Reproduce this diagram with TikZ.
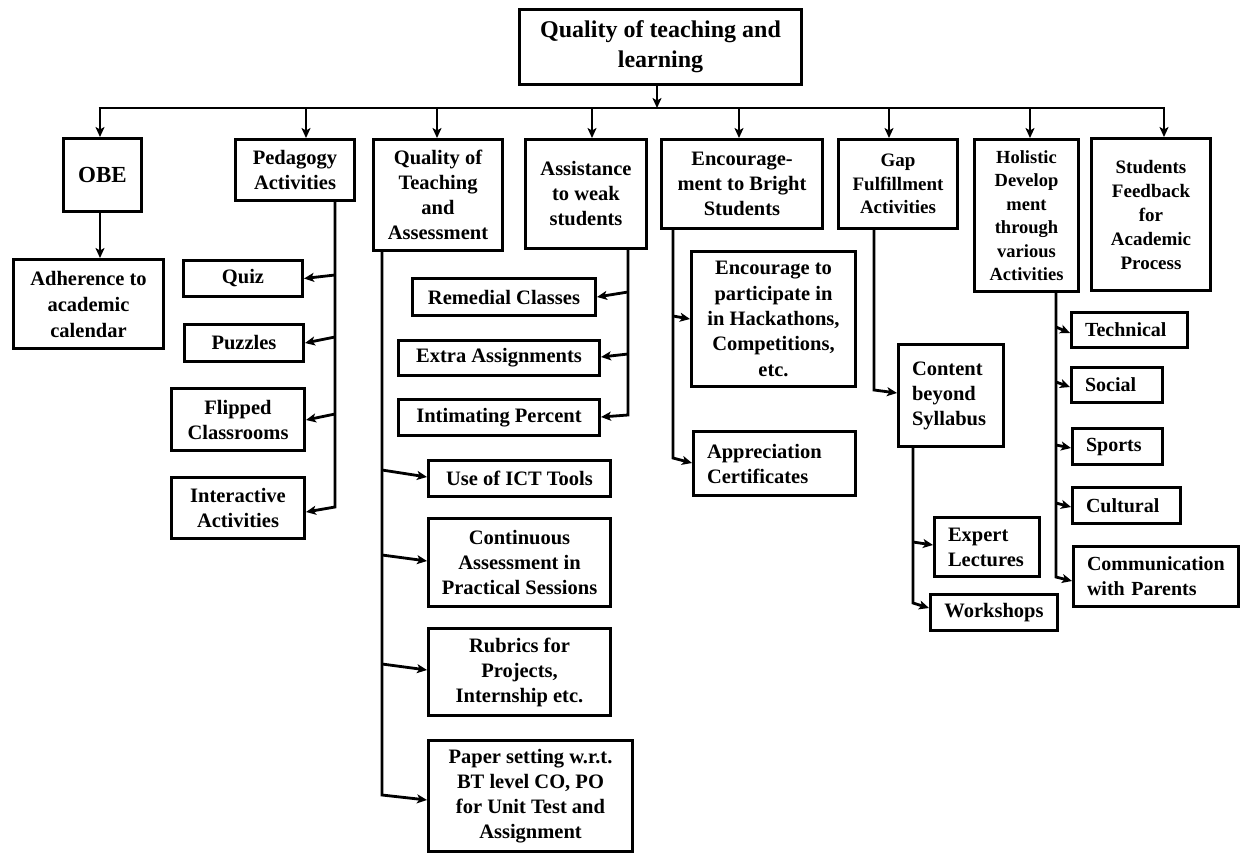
\documentclass[tikz,border=0pt]{standalone}
\usepackage{fontspec}
\setmainfont{Liberation Serif}
\usetikzlibrary{arrows.meta,calc}

% branch from a vertical trunk to a box side
\newcommand{\twig}[5]{\draw[arr] ($(#2.#3 -| #1)+(0,#4)$) -- ($(#2.#3)+(0,#5)$);}
% last branch: the trunk itself ends in this arrow
\newcommand{\twigend}[5]{\draw[arr] (#1) -- ($(#2.#3 -| #1)+(0,#4)$) -- ($(#2.#3)+(0,#5)$);}

\tikzset{
  box/.style={draw, line width=3pt, align=center, inner sep=0pt,
    font=\bfseries\fontsize{20.5}{25}\selectfont},
  lbox/.style={box, align=left, inner xsep=13.5pt},
  fbig/.style={font=\bfseries\fontsize{24}{30}\selectfont},
  fobe/.style={font=\bfseries\fontsize{23}{28}\selectfont},
  fmid/.style={font=\bfseries\fontsize{19}{23.5}\selectfont},
  fsm/.style={font=\bfseries\fontsize{18.5}{23.5}\selectfont},
  fsf/.style={font=\bfseries\fontsize{19}{24}\selectfont},
  fsub/.style={font=\bfseries\fontsize{20}{25}\selectfont},
  conn/.style={line width=2.8pt},
  arr/.style={conn, -{Stealth[length=10pt,width=9pt,inset=2.5pt]}},
}

\begin{document}
\begin{tikzpicture}[x=1pt,y=-1pt]
\fill[white] (0,0) rectangle (1242,855);
\useasboundingbox (0,0) rectangle (1242,855);

% root
\node[box,fbig,minimum width=282,minimum height=75] (top) at (660.5,47) {Quality of teaching and\\learning};

% first level
\node[box,fobe,minimum width=78,minimum height=73] (obe) at (102.5,175) {OBE};
\node[box,minimum width=119,minimum height=61] (ped) at (295,170) {Pedagogy\\Activities};
\node[box,minimum width=129,minimum height=111] (qta) at (438,195) {Quality of\\Teaching\\and\\Assessment};
\node[box,minimum width=121,minimum height=109] (asw) at (586,194) {Assistance\\to weak\\students};
\node[box,minimum width=161,minimum height=89] (enc) at (742,184) {Encourage-\\ment to Bright\\Students};
\node[box,fmid,minimum width=119,minimum height=89] (gap) at (898,184) {Gap\\Fulfillment\\Activities};
\node[box,fsm,minimum width=104,minimum height=152] (hol) at (1026.5,215.5) {Holistic\\Develop\\ment\\through\\various\\Activities};
\node[box,fsf,minimum width=119,minimum height=152] (sfb) at (1151,214.5) {Students\\Feedback\\for\\Academic\\Process};

% OBE
\node[box,font=\bfseries\fontsize{20.5}{26}\selectfont,minimum width=150,minimum height=89] (adh) at (88.5,304) {Adherence to\\academic\\calendar};

% pedagogy
\node[box,minimum width=119,minimum height=36] (quiz) at (243,278.5) {Quiz};
\node[box,minimum width=119,minimum height=37] (puz) at (244,343) {Puzzles};
\node[box,minimum width=133,minimum height=62] (flip) at (238,419.5) {Flipped\\Classrooms};
\node[box,minimum width=133,minimum height=61] (inter) at (238,508) {Interactive\\Activities};

% weak students
\node[box,minimum width=183,minimum height=37] (rem) at (504,297) {Remedial Classes};
\node[box,minimum width=201,minimum height=35] (extra) at (499,358) {Extra Assignments};
\node[box,minimum width=201,minimum height=36] (intim) at (499,417.5) {Intimating Percent};

% teaching and assessment
\node[box,minimum width=182,minimum height=36] (ict) at (519.5,478.5) {Use of ICT Tools};
\node[box,minimum width=182,minimum height=88] (cont) at (519.5,562.5) {Continuous\\Assessment in\\Practical Sessions};
\node[box,minimum width=182,minimum height=87] (rub) at (519.5,672) {Rubrics for\\Projects,\\Internship etc.};
\node[box,minimum width=204,minimum height=111] (paper) at (530.5,796) {Paper setting w.r.t.\\BT level CO, PO\\for Unit Test and\\Assignment};

% bright students
\node[box,font=\bfseries\fontsize{20.5}{25.3}\selectfont,minimum width=164,minimum height=135] (epart) at (773.5,319) {Encourage to\\participate in\\in Hackathons,\\Competitions,\\etc.};
\node[lbox,text width=135,minimum height=64] (appr) at (774.5,463.5) {Appreciation\\Certificates};

% gap fulfillment
\node[lbox,text width=78,minimum height=102] (cbs) at (951,395.5) {Content\\beyond\\Syllabus};
\node[lbox,text width=78,minimum height=59] (exp) at (987,547) {Expert\\Lectures};
\node[box,minimum width=127,minimum height=36] (work) at (994,612.5) {Workshops};

% holistic development
\node[lbox,fsub,text width=89,minimum height=35] (tech) at (1129.5,330) {Technical};
\node[lbox,fsub,text width=64,minimum height=35] (soc) at (1117,385) {Social};
\node[lbox,fsub,text width=63,minimum height=36] (spo) at (1117.5,446.5) {Sports};
\node[lbox,fsub,text width=81,minimum height=36] (cul) at (1126.5,505.5) {Cultural};
\node[lbox,fsub,text width=138,minimum height=60] (com) at (1156,576.5) {Communication\\with Parents};

% distribution bus
\coordinate (bus) at (657,108);
\draw[arr] ($(top.south)+(-3.5,0)$) -- ($(top.south |- bus)+(-3.5,0)$);
\draw[conn] ($(obe.north |- bus)+(-3.9,0)$) -- ($(sfb.north |- bus)+(14.4,0)$);
\foreach \b/\s in {obe/-2.5, ped/11, qta/-1, asw/6, enc/-3, gap/-9, hol/3.5, sfb/13}{
  \draw[arr] ($(\b.north |- bus)+(\s,0)$) -- ($(\b.north)+(\s,0)$);
}

% OBE to calendar
\coordinate (obeT) at ($(obe.south)+(-2.5,0)$);
\draw[arr] (obeT) -- (obeT |- adh.north);

% trunks
\coordinate (pedT) at ($(ped.south)+(40,0)$);
\coordinate (qtaT) at ($(qta.south)+(-56,0)$);
\coordinate (aswT) at ($(asw.south)+(42,0)$);
\coordinate (encT) at ($(enc.south)+(-69,0)$);
\coordinate (gapT) at ($(gap.south)+(-24,0)$);
\coordinate (cbsT) at ($(cbs.south)+(-38,0)$);
\coordinate (holT) at ($(hol.south)+(29.5,0)$);

\twig{pedT}{quiz}{east}{-3.5}{0}
\twig{pedT}{puz}{east}{-6}{0}
\twig{pedT}{flip}{east}{-5.5}{0.5}
\twigend{pedT}{inter}{east}{-1}{4}

\twig{qtaT}{ict}{west}{-8.5}{-1.5}
\twig{qtaT}{cont}{west}{-7.5}{-1.5}
\twig{qtaT}{rub}{west}{-8}{-2}
\twigend{qtaT}{paper}{west}{-1}{4}

\twig{aswT}{rem}{east}{-5}{0}
\twig{aswT}{extra}{east}{-4}{-1}
\twigend{aswT}{intim}{east}{-2.5}{-0.5}

\twig{encT}{epart}{west}{-3}{0}
\twigend{encT}{appr}{west}{-5.5}{-0.5}

\twigend{gapT}{cbs}{west}{-5.5}{-2.5}

\twig{cbsT}{exp}{west}{-5}{-2}
\twigend{cbsT}{work}{west}{-9.5}{-4.5}

\twig{holT}{tech}{west}{-3}{3}
\twig{holT}{soc}{west}{-3}{2}
\twig{holT}{spo}{west}{-1.5}{1.5}
\twig{holT}{cul}{west}{-2.5}{1.5}
\twigend{holT}{com}{west}{0.5}{4.5}
\end{tikzpicture}
\end{document}
